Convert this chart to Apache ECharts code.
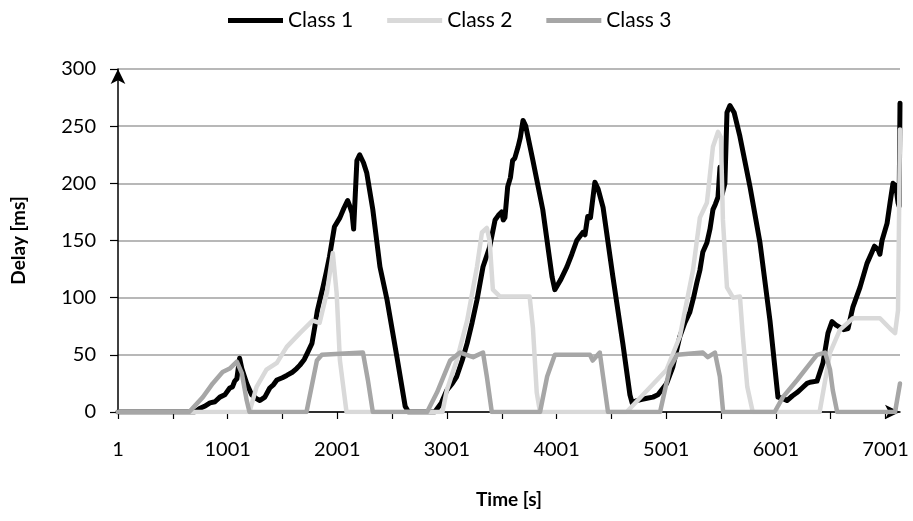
<!DOCTYPE html>
<html>
<head>
<meta charset="utf-8">
<title>Delay per class</title>
<script src="https://cdn.jsdelivr.net/npm/echarts@6/dist/echarts.min.js"></script>
<style>
  html, body { margin: 0; padding: 0; background: #fff; }
  #main { width: 913px; height: 521px; }
</style>
</head>
<body>
<div id="main"></div>
<script>
// time [s], delay [ms]
var class1Data = [
  [1, 0], [700, 0], [745, 3], [790, 5], [840, 8], [885, 9], [930, 13], [975, 15], [1020, 21], [1045, 22],
  [1065, 27], [1085, 29], [1110, 47], [1130, 38], [1175, 25], [1220, 15], [1260, 12], [1295, 10], [1340, 13],
  [1385, 21], [1420, 24], [1450, 28], [1500, 30], [1540, 32], [1595, 35], [1630, 38], [1660, 41], [1700, 46],
  [1730, 52], [1770, 60], [1795, 74], [1820, 89], [1870, 109], [1900, 122], [1930, 136], [1975, 162],
  [2025, 170], [2060, 178], [2095, 185], [2115, 180], [2135, 174], [2150, 160], [2165, 190], [2180, 220],
  [2205, 225], [2240, 218], [2270, 209], [2325, 177], [2390, 127], [2455, 98], [2545, 48], [2620, 5],
  [2650, 0], [2890, 0], [2950, 8], [3000, 19], [3050, 25], [3090, 31], [3140, 45], [3185, 60], [3230, 78],
  [3275, 98], [3330, 127], [3390, 144], [3440, 168], [3470, 172], [3500, 175], [3515, 168], [3530, 170],
  [3555, 197], [3580, 205], [3600, 220], [3620, 222], [3650, 232], [3670, 240], [3695, 255], [3720, 250],
  [3785, 220], [3875, 177], [3960, 118], [3985, 107], [4040, 116], [4095, 127], [4140, 138], [4185, 150],
  [4240, 157], [4260, 155], [4285, 171], [4310, 170], [4350, 201], [4380, 195], [4425, 179], [4515, 118],
  [4605, 60], [4670, 15], [4690, 8], [4735, 10], [4780, 11], [4825, 12], [4880, 13], [4925, 15], [5005, 25],
  [5060, 39], [5125, 66], [5170, 78], [5215, 87], [5250, 100], [5280, 113], [5308, 124], [5335, 140],
  [5372, 148], [5400, 160], [5427, 177], [5450, 182], [5473, 188], [5491, 214], [5510, 190], [5536, 200],
  [5555, 262], [5582, 268], [5620, 262], [5673, 241], [5765, 197], [5856, 148], [5947, 80], [6020, 13],
  [6060, 12], [6102, 10], [6150, 14], [6194, 17], [6240, 21], [6285, 25], [6312, 26], [6376, 27], [6431, 43],
  [6476, 69], [6513, 79], [6550, 76], [6586, 74], [6620, 72], [6659, 73], [6704, 92], [6768, 109],
  [6832, 130], [6878, 140], [6900, 145], [6933, 142], [6950, 138], [6969, 150], [7015, 165], [7042, 183],
  [7069, 200], [7095, 198], [7115, 183], [7125, 180], [7133, 270]
];
var class2Data = [
  [1, 0], [1200, 0], [1265, 22], [1355, 37], [1450, 43], [1540, 57], [1660, 69], [1775, 80], [1840, 78],
  [1905, 104], [1960, 139], [1995, 104], [2025, 45], [2085, 0], [2960, 0], [3000, 19], [3090, 45],
  [3185, 80], [3275, 127], [3320, 157], [3365, 161], [3390, 150], [3420, 107], [3485, 101], [3755, 101],
  [3785, 74], [3820, 17], [3850, 0], [4640, 0], [5005, 37], [5125, 66], [5245, 124], [5308, 170], [5372, 183],
  [5427, 232], [5473, 245], [5500, 240], [5518, 168], [5555, 109], [5610, 100], [5673, 101], [5700, 66],
  [5740, 22], [5790, 0], [6400, 0], [6495, 52], [6586, 72], [6704, 82], [6830, 82], [6950, 82], [7042, 73],
  [7088, 69], [7115, 89], [7133, 247]
];
var class3Data = [
  [1, 0], [650, 0], [775, 13], [865, 25], [955, 35], [1020, 38], [1085, 44], [1130, 34], [1175, 10],
  [1200, 0], [1720, 0], [1815, 45], [1860, 50], [2235, 52], [2280, 28], [2325, 0], [2820, 0], [2910, 17],
  [3030, 45], [3120, 52], [3240, 48], [3330, 52], [3365, 31], [3410, 0], [3850, 0], [3915, 31], [3985, 50],
  [4305, 50], [4330, 45], [4395, 52], [4425, 31], [4470, 0], [4945, 0], [5035, 39], [5100, 50], [5335, 52],
  [5380, 48], [5445, 52], [5490, 31], [5520, 0], [5990, 0], [6065, 13], [6195, 28], [6285, 39], [6375, 50],
  [6450, 52], [6495, 37], [6520, 19], [6560, 0], [7088, 0], [7133, 25]
];
var seriesNames = ["Class 1", "Class 2", "Class 3"];
var seriesColors = ["#000000", "#d9d9d9", "#a6a6a6"];
var xTickValues = [1, 501, 1001, 1501, 2001, 2501, 3001, 3501, 4001, 4501, 5001, 5501, 6001, 6501, 7001];
var xLabelValues = [1, 1001, 2001, 3001, 4001, 5001, 6001, 7001];

var chartDom = document.getElementById("main");
var myChart = echarts.init(chartDom);
var font = "Lato, 'Open Sans', sans-serif";
var allData = [class1Data, class2Data, class3Data];

var option = {
  animation: false,
  backgroundColor: "#ffffff",
  legend: {
    left: 223,
    top: 5,
    icon: "rect",
    itemWidth: 55,
    itemHeight: 5,
    itemGap: 34,
    data: seriesNames,
    textStyle: {
      fontFamily: font,
      fontSize: 21,
      color: "#000",
    },
  },
  grid: {
    left: 118,
    right: 13,
    top: 69,
    bottom: 109,
  },
  xAxis: {
    type: "value",
    min: 1,
    max: 7133,
    name: "Time [s]",
    nameLocation: "middle",
    nameGap: 78,
    nameTextStyle: {
      fontFamily: font,
      fontSize: 19,
      fontWeight: "bold",
      color: "#000",
    },
    axisLine: {
      show: true,
      symbol: ["none", "arrow"],
      symbolSize: [11, 15],
      lineStyle: { color: "#000", width: 1.5 },
    },
    axisTick: {
      show: true,
      length: 7,
      customValues: xTickValues,
      lineStyle: { color: "#000", width: 1.2 },
    },
    axisLabel: {
      customValues: xLabelValues,
      formatter: function (v) {
        return String(v);
      },
      margin: 28,
      fontFamily: font,
      fontSize: 20,
      color: "#000",
    },
    splitLine: { show: false },
  },
  yAxis: {
    type: "value",
    min: 0,
    max: 300,
    interval: 50,
    name: "Delay [ms]",
    nameLocation: "middle",
    nameGap: 90,
    nameRotate: 90,
    nameTextStyle: {
      fontFamily: font,
      fontSize: 19,
      fontWeight: "bold",
      color: "#000",
    },
    axisLine: {
      show: true,
      symbol: ["none", "arrow"],
      symbolSize: [11, 15],
      lineStyle: { color: "#000", width: 1.5 },
    },
    axisTick: {
      show: true,
      length: 8,
      lineStyle: { color: "#000", width: 1.2 },
    },
    axisLabel: {
      margin: 22,
      fontFamily: font,
      fontSize: 20,
      color: "#000",
    },
    splitLine: {
      show: true,
      lineStyle: { color: "#a0a0a0", width: 1.5 },
    },
  },
  series: seriesNames.map(function (name, i) {
    return {
      name: name,
      type: "line",
      data: allData[i],
      symbol: "none",
      smooth: false,
      color: seriesColors[i],
      lineStyle: { color: seriesColors[i], width: i === 0 ? 5 : 4.5, join: "round", cap: "round" },
    };
  }),
};
myChart.setOption(option);
</script>
</body>
</html>
